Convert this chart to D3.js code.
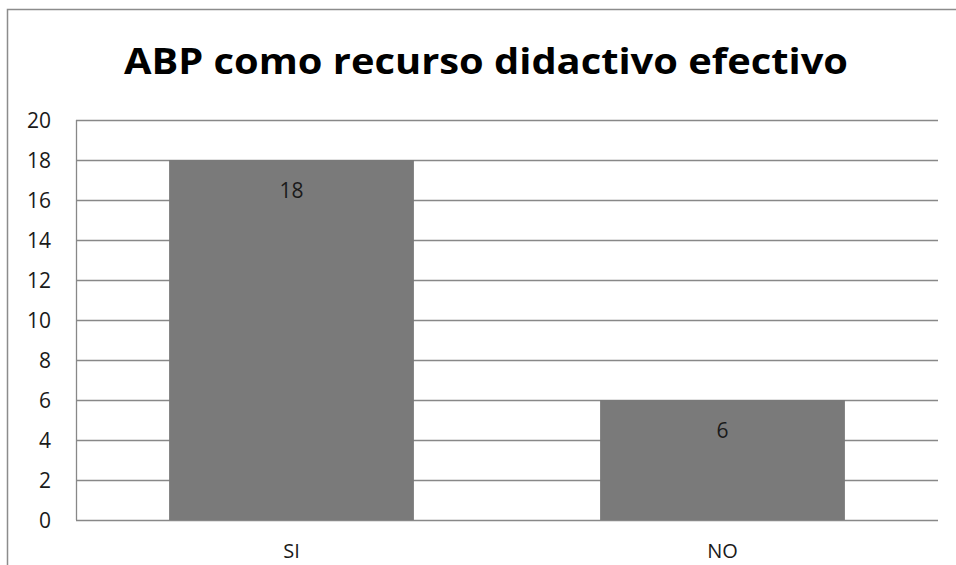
<!DOCTYPE html>
<html><head><meta charset="utf-8">
<script src="https://cdn.jsdelivr.net/npm/d3@7"></script>
<style>body{margin:0;background:#fff}svg{display:block}</style>
</head><body>
<script>
const categories = ["SI", "NO"];
const values = [18, 6];
const yTicks = [0, 2, 4, 6, 8, 10, 12, 14, 16, 18, 20];
const title = "ABP como recurso didactivo efectivo";

const W = 956, H = 565;
const svg = d3.select("body").append("svg").attr("width", W).attr("height", H);
const font = "'Open Sans', 'Noto Sans', sans-serif";

// chart border
svg.append("rect").attr("x", 7.5).attr("y", 9.5).attr("width", 960).attr("height", 600)
  .attr("fill", "none").attr("stroke", "#8c8c8c").attr("stroke-width", 1.5);

const pLeft = 76, pRight = 938, pTop = 120, pBottom = 520;
const x = d3.scaleBand().domain(categories).range([pLeft, pRight]).padding(0);
const y = d3.scaleLinear().domain([0, 20]).range([pBottom, pTop]);

// gridlines
svg.append("g").selectAll("line").data(yTicks).join("line")
  .attr("x1", pLeft).attr("x2", pRight)
  .attr("y1", d => y(d) + 0.5).attr("y2", d => y(d) + 0.5)
  .attr("stroke", "#888").attr("stroke-width", 1.3);

// y axis line
svg.append("line").attr("x1", pLeft + 0.5).attr("x2", pLeft + 0.5).attr("y1", pTop).attr("y2", pBottom)
  .attr("stroke", "#888").attr("stroke-width", 1.3);

// y tick labels
svg.append("g").selectAll("text").data(yTicks).join("text")
  .attr("x", 51).attr("y", d => y(d) + 7.5)
  .attr("text-anchor", "end").attr("font-family", font).attr("font-size", 21)
  .attr("fill", "#1a1a1a").text(d => d);

const barFrac = 0.568;
const bw = x.bandwidth() * barFrac;
svg.append("g").selectAll("rect").data(values).join("rect")
  .attr("x", (d, i) => x(categories[i]) + (x.bandwidth() - bw) / 2)
  .attr("y", d => y(d)).attr("width", bw).attr("height", d => pBottom - y(d))
  .attr("fill", "#7a7a7a");

// data labels
svg.append("g").selectAll("text").data(values).join("text")
  .attr("x", (d, i) => x(categories[i]) + x.bandwidth() / 2)
  .attr("y", d => y(d) + 37.5)
  .attr("text-anchor", "middle").attr("font-family", font).attr("font-size", 21)
  .attr("fill", "#1a1a1a").text(d => d);

// category labels
svg.append("g").selectAll("text").data(categories).join("text")
  .attr("x", d => x(d) + x.bandwidth() / 2).attr("y", 558)
  .attr("text-anchor", "middle").attr("font-family", font).attr("font-size", 20)
  .attr("fill", "#1a1a1a").text(d => d);

// title
svg.append("text").attr("x", 486).attr("y", 74).attr("text-anchor", "middle")
  .attr("font-family", font).attr("font-weight", "bold").attr("font-size", 36)
  .attr("fill", "#000").attr("textLength", 724).attr("lengthAdjust", "spacingAndGlyphs")
  .text(title);
</script>
</body></html>
